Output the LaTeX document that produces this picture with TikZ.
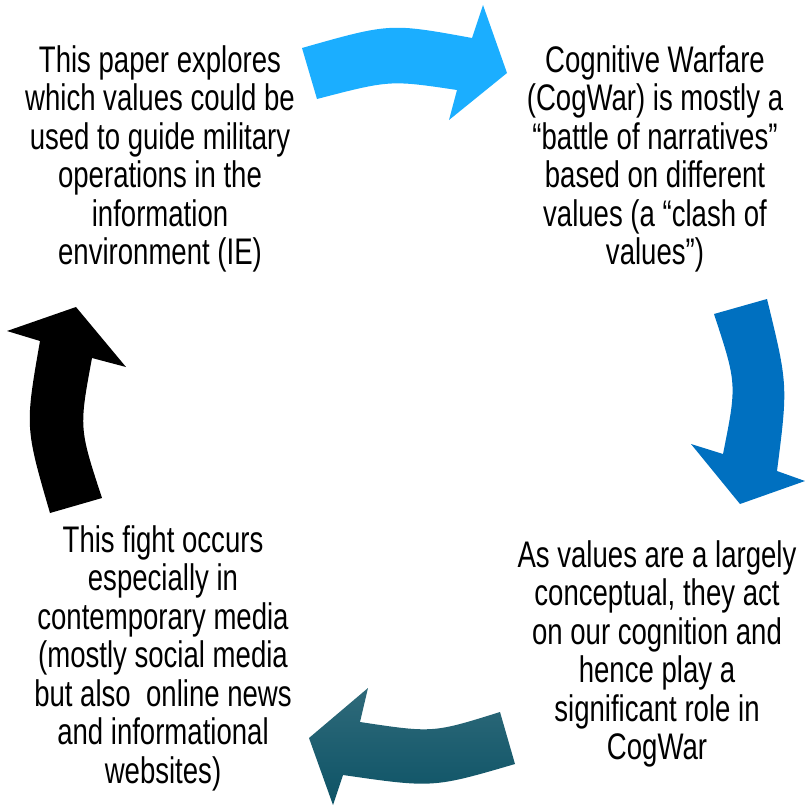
\documentclass[tikz,border=0pt]{standalone}
\usepackage{fontspec}
\setmainfont[FakeStretch=0.745]{Liberation Sans}
\usepackage{tikz}
\usetikzlibrary{positioning}

\definecolor{skyarrow}{RGB}{27,174,255}
\definecolor{seaarrow}{RGB}{0,112,192}
\definecolor{tealtop}{RGB}{47,106,122}
\definecolor{tealbot}{RGB}{13,83,102}

\begin{document}
\begin{tikzpicture}[x=1pt,y=-1pt,
	blurb/.style={align=center,inner sep=0pt,anchor=north,font=\fontsize{37}{38.5}\selectfont}]
	  \useasboundingbox (0,0) rectangle (805,806);

	  \node[blurb] (TL) at (160,45) {This paper explores\\which values could be\\used to guide military\\operations in the\\information\\environment (IE)};
	  \node[blurb] (TR) at (655,45) {Cognitive Warfare\\(CogWar) is mostly a\\“battle of narratives”\\based on different\\values (a “clash of\\values”)};
	  \node[blurb] (BR) at (657,540) {As values are a largely\\conceptual, they act\\on our cognition and\\hence play a\\significant role in\\CogWar};
	  \node[blurb] (BL) at (163,525) {This fight occurs\\especially in\\contemporary media\\(mostly social media\\but also~ online news\\and informational\\websites)};

	  % top: TL -> TR
	  \fill[skyarrow] (302,48) .. controls (390,23) .. (472,38) -- (483,5) -- (507,73) -- (449,120)
		-- (457,90) .. controls (390,80) .. (317,99) -- cycle;
	  % right: TR -> BR
	  \fill[seaarrow] (714,314) -- (767,299) .. controls (788,385) .. (777,471) -- (805,481) -- (740,504)
		-- (691,444) -- (723,454) .. controls (737,384) .. (714,314) -- cycle;
	  % bottom: BR -> BL
	  \shade[top color=tealtop,bottom color=tealbot] (500,712) .. controls (433,733) .. (360,722) -- (368,688)
		-- (309,738) -- (333,805) -- (343,775) .. controls (433,788) .. (515,764) -- cycle;
	  % left: BL -> TL
	  \fill[black] (50,513) .. controls (25,427) .. (40,341) -- (7,331) -- (76,307) -- (126,367)
		-- (92,358) .. controls (79,428) .. (102,498) -- cycle;
	\end{tikzpicture}
\end{document}
